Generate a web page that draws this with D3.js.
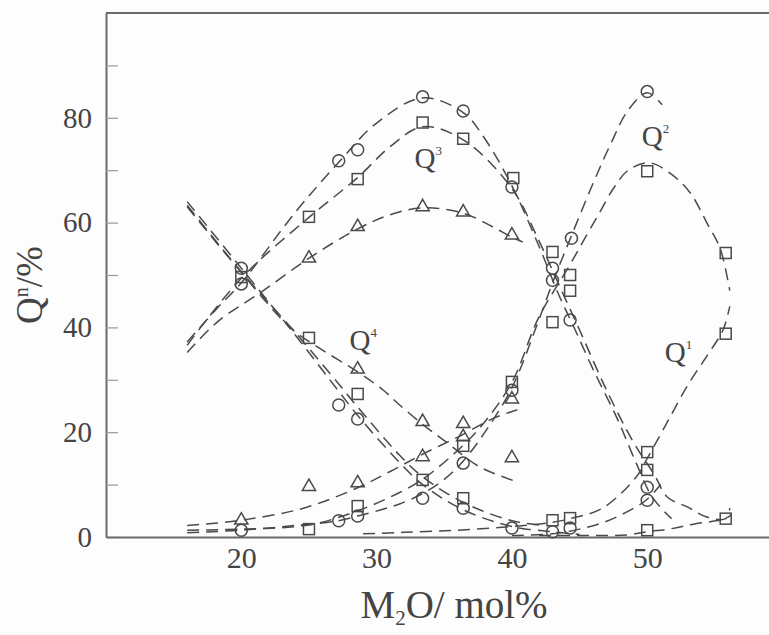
<!DOCTYPE html>
<html>
<head>
<meta charset="utf-8">
<script src="https://cdn.jsdelivr.net/npm/d3@7"></script>
<style>
    body { margin: 0; background: #fff; }
    text { font-family: "Liberation Serif", "Times New Roman", Times, serif; fill: #444; }
</style>
</head>
<body>
<div id="chart"></div>
<script>
// svg size
const width = 769;
const height = 635;

// plot frame
const frame = { left: 106, right: 769, top: 13, bottom: 537 };

// tick values
const yTicks = [0, 10, 20, 30, 40, 50, 60, 70, 80, 90];
const yLabels = [0, 20, 40, 60, 80];
const xTicks = [20, 30, 40, 50];

// measured points  [M2O mol%, Qn %]
const circles = [
    [20, 51.3], [20, 48.3], [20, 1.3],
    [27.2, 71.8], [27.2, 25.2], [27.2, 3.1],
    [28.6, 73.9], [28.6, 22.5], [28.6, 4.0],
    [33.4, 84.0], [33.4, 7.4],
    [36.4, 81.3], [36.4, 14.1], [36.4, 5.5],
    [40, 66.8], [40, 28.0], [40, 1.7],
    [43, 51.3], [43, 49.0], [43, 1.0],
    [44.4, 57.0], [44.3, 41.4], [44.3, 1.7],
    [50, 85.0], [50, 9.5], [50, 7.0]
];
const squares = [
    [20, 49.6],
    [25, 61.1], [25, 38.0], [25, 1.5],
    [28.6, 68.3], [28.6, 27.3], [28.6, 5.9],
    [33.4, 79.1], [33.4, 10.9],
    [36.4, 76.0], [36.4, 17.4], [36.4, 7.4],
    [40.1, 68.5], [40, 29.6],
    [43, 54.4], [43, 41.0], [43, 3.2],
    [44.3, 50.0], [44.3, 47.0], [44.3, 3.6],
    [50, 69.8], [50, 16.2], [50, 12.8], [50, 1.3],
    [55.8, 54.2], [55.8, 38.8], [55.8, 3.5]
];
const triangles = [
    [20, 3.2],
    [25, 53.2], [25, 9.6],
    [28.6, 59.2], [28.6, 32.0], [28.6, 10.3],
    [33.4, 63.0], [33.4, 22.0], [33.4, 15.3],
    [36.4, 62.0], [36.4, 21.6], [36.4, 19.1],
    [40, 57.6], [40, 26.3], [40, 15.1]
];

// fitted curves (dashed), knots
const circleQ3 = [[16, 37.2], [18.3, 43.9], [20, 48.5], [24, 62], [27.2, 71.5], [30, 79], [33.4, 83.8], [36.4, 81], [38, 76], [40, 67], [42, 55.5], [43.5, 46], [44.5, 40.5], [46, 32], [47.8, 22.5], [49.2, 14], [50.4, 7.5], [51.8, 3.5]];
const squareQ3 = [[16, 36.6], [20, 49.4], [25, 61], [28.6, 68.6], [31, 74.5], [33.4, 78.3], [36.4, 75.8], [40, 66.5], [42, 56.5], [43.5, 48], [45, 39.5], [47, 28], [49, 18], [50.5, 12], [51.5, 7.6], [53, 5.7], [54.4, 3.8], [55.8, 3.5], [56.1, 5.5]];
const triangleQ3 = [[16, 35.2], [18.3, 41.2], [21.4, 46.6], [25, 53.2], [28.6, 58.8], [31, 61.5], [33.4, 62.8], [36.4, 61.8], [38.5, 59.3], [40, 57.2], [40.8, 56.3]];

const circleQ4 = [[16, 64], [20, 51.3], [24, 38.5], [27.2, 27.8], [28.6, 23.2], [31.7, 14.2], [33.4, 10], [36.4, 5.2], [40, 2], [43, 1], [45, 0.5]];
const squareQ4 = [[16, 63.3], [20, 50.6], [24, 39], [27.2, 29.2], [28.6, 24.8], [31.7, 15.6], [33.4, 11.5], [36.4, 6.6], [40, 3.1], [42, 2.3]];
const triangleQ4 = [[16, 63], [20, 50.5], [23.6, 40], [25.8, 36], [28.6, 31.5], [30.5, 28], [31.7, 25.2], [33.4, 21.5], [35.2, 18], [37.6, 13.4], [40.4, 10.5]];

const circleQ2 = [[16, 0.8], [20, 1.3], [24, 2.2], [27.2, 3.1], [28.6, 4], [30.2, 5.1], [31.7, 6.3], [33.4, 8.3], [35, 11], [36.4, 14.5], [38, 20], [40, 28.5], [42, 41.5], [43, 48.5], [44.4, 57.5], [46, 67.5], [47.3, 75], [48.6, 81.5], [50, 84.8], [51.1, 82.5]];
const squareQ2 = [[16, 1.3], [20, 1.5], [25, 2.3], [28.6, 5], [31.7, 8.5], [33.4, 11], [36.4, 17.5], [38, 22], [40, 29.5], [42, 42], [44.3, 52], [45.5, 57.5], [46.5, 62], [47.5, 66.5], [48.6, 70], [50.2, 71.4], [51.9, 69], [53.2, 65.6], [54.4, 60], [55.4, 55], [56.1, 47]];
const triangleQ2 = [[16, 2.2], [20, 3.2], [24.6, 5.5], [28.6, 9.4], [31, 12.5], [33.4, 15.8], [36.4, 19.6], [38.5, 22.5], [40.4, 24.3]];

const circleQ1 = [[40, 0.3], [43, 0.6], [45, 1.5], [47, 3], [49, 5.5], [50, 7.2], [51, 10]];
const squareQ1 = [[29, 0.6], [32, 0.9], [36, 1.3], [40, 2], [43, 2.8], [44.3, 3.5], [46.7, 5.5], [49.2, 11.5], [50, 15], [51.5, 22], [53, 29], [54.4, 34.5], [55.6, 39.5], [56.1, 44]];
const squareTail = [[42, 0.3], [45.5, 0.3], [48.5, 0.4], [50, 1], [51.8, 1.6], [53.5, 2.5], [55.8, 3.5], [56.2, 4.3]];

const curves = [circleQ3, squareQ3, triangleQ3, circleQ4, squareQ4, triangleQ4,
    circleQ2, squareQ2, triangleQ2, circleQ1, squareQ1, squareTail];

// species labels
const qLabels = [
    { n: "3", x: 32.8, y: 70.4 },
    { n: "2", x: 49.6, y: 74.6 },
    { n: "4", x: 28.0, y: 35.7 },
    { n: "1", x: 51.3, y: 33.4 }
];

// scales
const x = d3.scaleLinear().domain([10, 59]).range([frame.left, frame.right]);
const y = d3.scaleLinear().domain([0, 100]).range([frame.bottom, frame.top]);

const svg = d3.select("#chart").append("svg")
    .attr("width", width)
    .attr("height", height);

svg.append("rect").attr("width", width).attr("height", height).attr("fill", "#fdfdfd");

// top border
svg.append("line")
    .attr("x1", frame.left).attr("x2", frame.right)
    .attr("y1", frame.top).attr("y2", frame.top)
    .attr("stroke", "#6a6a6a").attr("stroke-width", 2);

// y axis, ticks pointing inwards
const leftAxis = d3.axisLeft(y)
    .tickValues(yTicks)
    .tickSizeInner(-12)
    .tickSizeOuter(0)
    .tickPadding(14)
    .tickFormat(d => yLabels.includes(d) ? d : "");
const yAxis = svg.append("g")
    .attr("transform", `translate(${frame.left}, 0)`)
    .attr("font-family", null)
    .call(leftAxis);
yAxis.select(".domain").attr("stroke", "#6a6a6a").attr("stroke-width", 2);
yAxis.selectAll(".tick line").attr("stroke", "#999").attr("stroke-width", 1.2);
yAxis.selectAll("text")
    .style("font-family", "'Liberation Serif', serif")
    .style("font-size", "29px")
    .attr("fill", "#444");

// x axis, labels only
const bottomAxis = d3.axisBottom(x)
    .tickValues(xTicks)
    .tickSize(0)
    .tickPadding(10);
const xAxis = svg.append("g")
    .attr("transform", `translate(0, ${frame.bottom})`)
    .call(bottomAxis);
xAxis.select(".domain").attr("stroke", "#6a6a6a").attr("stroke-width", 2);
xAxis.selectAll("text")
    .style("font-family", "'Liberation Serif', serif")
    .style("font-size", "30px")
    .attr("fill", "#444");

// dashed curves
const line = d3.line()
    .x(d => x(d[0]))
    .y(d => y(d[1]))
    .curve(d3.curveCatmullRom.alpha(0.5));

svg.append("g").selectAll("path")
    .data(curves)
    .enter()
    .append("path")
    .attr("d", line)
    .attr("fill", "none")
    .attr("stroke", "#4a4a4a")
    .attr("stroke-width", 1.5)
    .attr("stroke-dasharray", "12,7");

// markers
const markStyle = sel => sel.attr("fill", "none").attr("stroke", "#4a4a4a").attr("stroke-width", 1.5);

svg.append("g").selectAll("circle")
    .data(circles)
    .enter()
    .append("circle")
    .attr("cx", d => x(d[0]))
    .attr("cy", d => y(d[1]))
    .attr("r", 6)
    .call(markStyle);

svg.append("g").selectAll("rect")
    .data(squares)
    .enter()
    .append("rect")
    .attr("x", d => x(d[0]) - 5.5)
    .attr("y", d => y(d[1]) - 5.5)
    .attr("width", 11)
    .attr("height", 11)
    .call(markStyle);

svg.append("g").selectAll("path")
    .data(triangles)
    .enter()
    .append("path")
    .attr("d", d3.symbol(d3.symbolTriangle, 75))
    .attr("transform", d => `translate(${x(d[0])}, ${y(d[1])})`)
    .call(markStyle);

// Qn labels
const qText = svg.append("g").selectAll("text")
    .data(qLabels)
    .enter()
    .append("text")
    .attr("x", d => x(d.x))
    .attr("y", d => y(d.y))
    .style("font-size", "29px");
qText.append("tspan").text("Q");
qText.append("tspan")
    .attr("dy", -13)
    .style("font-size", "13px")
    .text(d => d.n);

// axis titles
const xTitle = svg.append("text")
    .attr("x", 454)
    .attr("y", 618)
    .attr("text-anchor", "middle")
    .style("font-size", "39px");
xTitle.append("tspan").text("M");
xTitle.append("tspan").attr("dy", 7).style("font-size", "21px").text("2");
xTitle.append("tspan").attr("dy", -7).text("O/ mol%");

const yTitle = svg.append("text")
    .attr("transform", "translate(42, 285) rotate(-90)")
    .attr("text-anchor", "middle")
    .style("font-size", "37px");
yTitle.append("tspan").text("Q");
yTitle.append("tspan").attr("dy", -14).style("font-size", "20px").text("n");
yTitle.append("tspan").attr("dy", 14).text("/%");
</script>
</body>
</html>
